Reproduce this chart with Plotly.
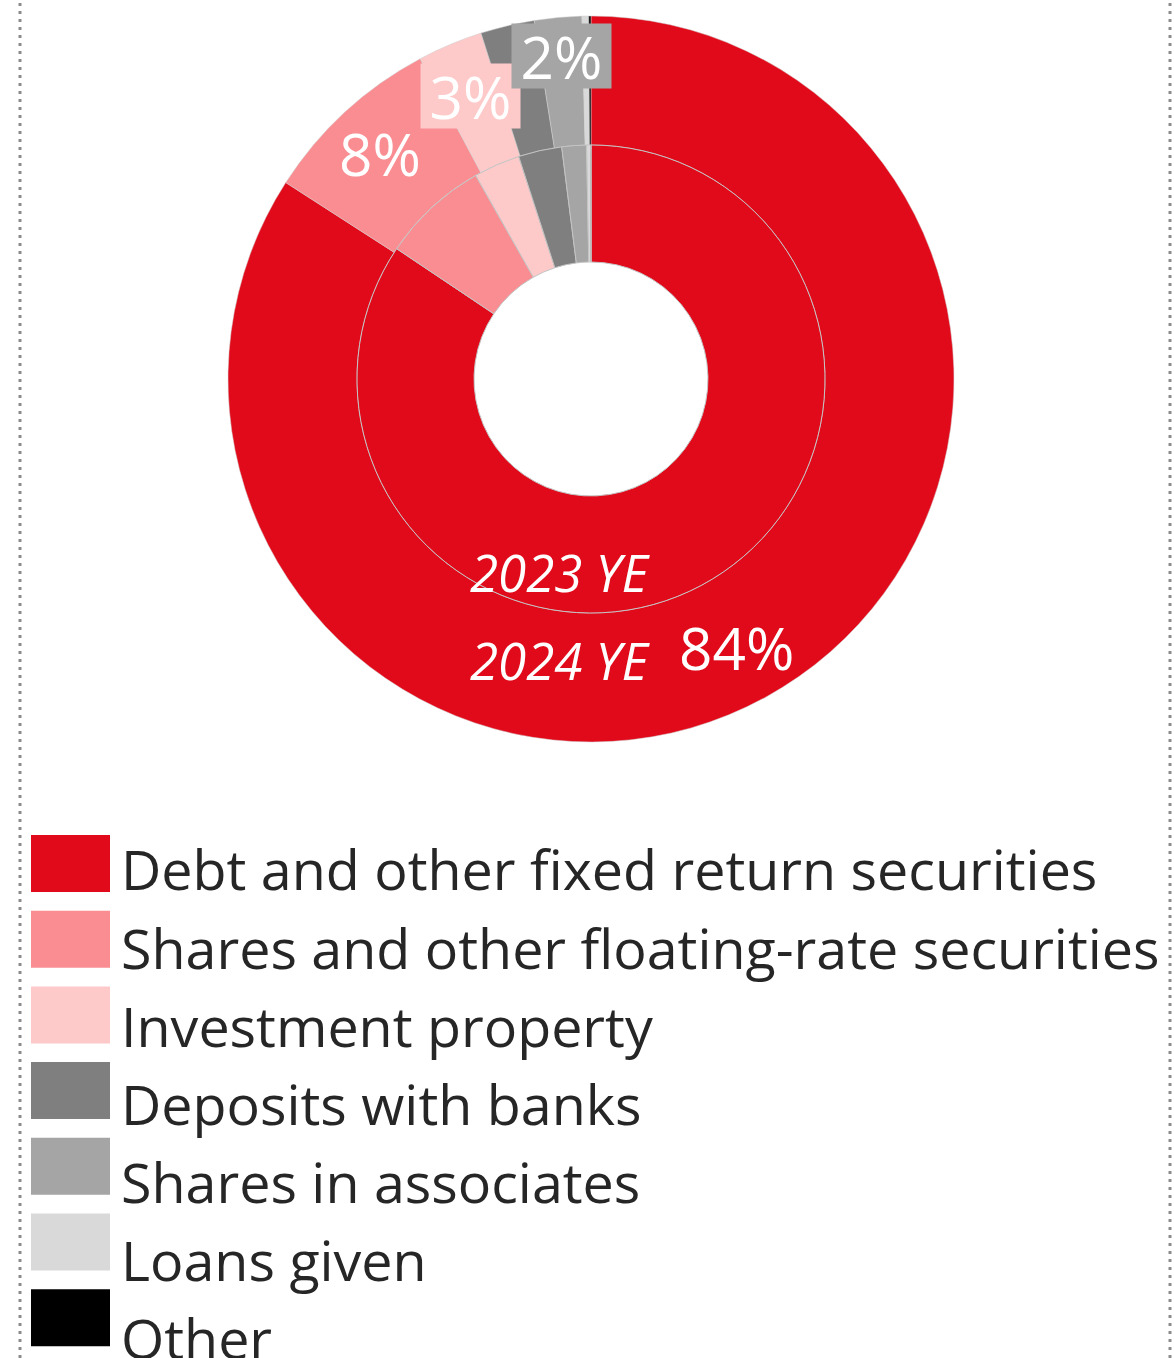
import plotly.graph_objects as go

# ---- data ----
categories = [
    "Debt and other fixed return securities",
    "Shares and other floating-rate securities",
    "Investment property",
    "Deposits with banks",
    "Shares in associates",
    "Loans given",
    "Other",
]
values_2024 = [84.1, 8.1, 2.9, 2.4, 2.1, 0.3, 0.1]
values_2023 = [84.4, 7.4, 3.2, 3.0, 1.7, 0.28, 0.02]
colors = ["#e10a1a", "#f98d91", "#fdc9c9", "#7f7f7f", "#a5a5a5", "#d9d9d9", "#000000"]
ring_labels = ["2023 YE", "2024 YE"]

W, H = 1174, 1358
FONT = "Open Sans"


def px(x):
    return x / W


def py(y):
    return 1 - y / H


cx, cy = 591, 379
r_outer, r_mid, r_hole = 363, 234, 117

fig = go.Figure()

# outer ring: 2024 YE
fig.add_trace(go.Pie(
    labels=categories, values=values_2024, sort=False, direction="clockwise",
    rotation=0, hole=r_mid / r_outer, textinfo="none", hoverinfo="label+percent",
    marker=dict(colors=colors, line=dict(color="#d0d0d0", width=0.5)),
    domain=dict(x=[px(cx - r_outer), px(cx + r_outer)], y=[py(cy + r_outer), py(cy - r_outer)]),
    showlegend=False, name="2024 YE",
))
# inner ring: 2023 YE
fig.add_trace(go.Pie(
    labels=categories, values=values_2023, sort=False, direction="clockwise",
    rotation=0, hole=r_hole / r_mid, textinfo="none", hoverinfo="label+percent",
    marker=dict(colors=colors, line=dict(color="#c4c4c4", width=1)),
    domain=dict(x=[px(cx - r_mid), px(cx + r_mid)], y=[py(cy + r_mid), py(cy - r_mid)]),
    showlegend=False, name="2023 YE",
))

annotations = []
# percentage labels for the 2024 ring
pct_labels = [
    (0, 736, 647, None),
    (1, 380, 153, None),
    (2, 470, 96, colors[2]),
    (4, 561, 56, colors[4]),
]
for idx, x, y, bg in pct_labels:
    a = dict(
        x=px(x), y=py(y), xref="paper", yref="paper", showarrow=False,
        text=f"{round(values_2024[idx])}%", xanchor="center", yanchor="middle",
        font=dict(family=FONT, size=58.5, color="white"),
    )
    if bg:
        a.update(bgcolor=bg, width=99, height=64, borderpad=0, valign="middle")
    annotations.append(a)

# ring labels
for lbl, y in zip(ring_labels, [572, 660]):
    annotations.append(dict(
        x=px(560), y=py(y), xref="paper", yref="paper", showarrow=False,
        text=f"<i>{lbl}</i>", xanchor="center", yanchor="middle",
        font=dict(family=FONT, size=51, color="white"),
    ))

# manual legend
shapes = []
sq0, sq_step = 863.5, 75.7
tx0, tx_step = 869, 78
for i, (cat, col) in enumerate(zip(categories, colors)):
    yc = sq0 + i * sq_step
    shapes.append(dict(type="rect", xref="paper", yref="paper",
                       x0=px(31), x1=px(110), y0=py(yc + 28.5), y1=py(yc - 28.5),
                       fillcolor=col, line=dict(width=0)))
    annotations.append(dict(
        x=px(119), y=py(tx0 + i * tx_step), xref="paper", yref="paper", showarrow=False,
        text=cat, xanchor="left", yanchor="middle",
        font=dict(family=FONT, size=55.6, color="#262626"),
    ))

# dotted frame lines
for x in (20, 1170):
    shapes.append(dict(type="line", xref="paper", yref="paper",
                       x0=px(x), x1=px(x), y0=0, y1=1,
                       line=dict(color="#8c8c8c", width=3, dash="3px,5px")))

fig.update_layout(
    width=W, height=H, margin=dict(l=0, r=0, t=0, b=0),
    paper_bgcolor="white", plot_bgcolor="white",
    annotations=annotations, shapes=shapes,
)

fig.write_html("out.html", config={"displayModeBar": False},
               post_script="document.body.style.margin='0px';")
